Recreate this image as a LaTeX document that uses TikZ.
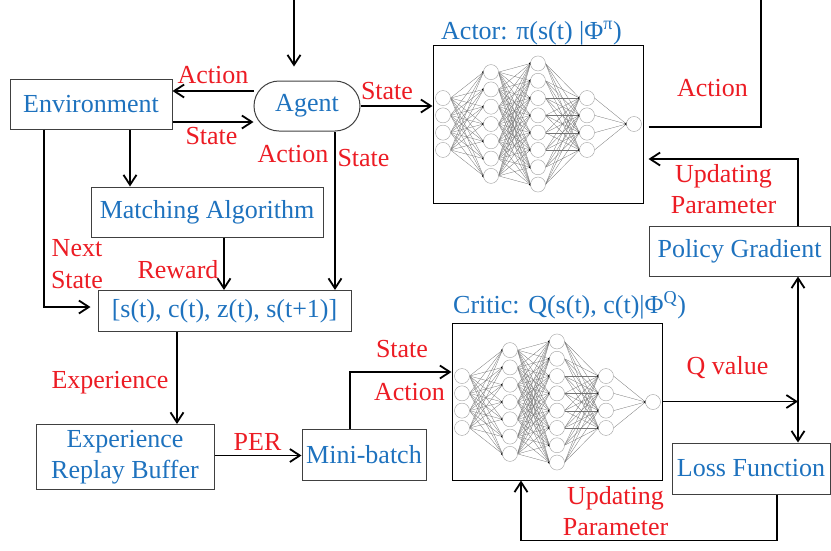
\documentclass[tikz,border=0pt]{standalone}
\usepackage{fontspec}
\setmainfont{Liberation Serif}
\usepackage{tikz}
\usetikzlibrary{arrows.meta}
\definecolor{blueT}{RGB}{30,114,190}
\definecolor{redT}{RGB}{236,28,36}
\tikzset{
  box/.style={draw=black!75, line width=1pt, text=blueT, inner sep=0pt, align=center},
  lbl/.style={text=redT, inner sep=0pt},
  flow/.style={line width=1.8pt},
  neuron/.style={draw=gray!70, line width=0.45pt, fill=white},
  synapse/.style={draw=black!55, line width=0.3pt},
}

\begin{document}
\begin{tikzpicture}[x=1pt, y=-1pt, font=\fontsize{26}{31.5}\selectfont,
    >={Straight Barb[length=10pt,width=13pt]}]
    \useasboundingbox (0,0) rectangle (831,550);

    % Blocks
    \node[box, minimum width=162pt, minimum height=50pt] (env) at (91,104) {Environment};
    \node[box, rounded corners=25pt, minimum width=106pt, minimum height=50pt] (agent) at (307,106) {Agent};
    \node[box, minimum width=232pt, minimum height=50pt] (match) at (207,212) {Matching Algorithm};
    \node[box, minimum width=253pt, minimum height=41pt] (tuple) at (224.5,311) {[s(t), c(t), z(t), s(t+1)]};
    \node[box, minimum width=178pt, minimum height=65pt] (erb) at (125,457) {Experience\\Replay Buffer};
    \node[box, minimum width=124pt, minimum height=51pt] (mini) at (364,454.5) {Mini-batch};
    \node[box, minimum width=181pt, minimum height=50pt] (pg) at (739.5,251) {Policy Gradient};
    \node[box, minimum width=158pt, minimum height=51pt] (loss) at (751,468.5) {Loss Function};

    % Actor and critic frames
    \node[draw, line width=1pt, minimum width=210pt, minimum height=158pt] (actor) at (538,124) {};
    \node[draw, line width=1pt, minimum width=210pt, minimum height=157pt] (critic) at (557,401.5) {};
    \node[anchor=base west, text=blueT, inner sep=0pt] (actortitle) at (441,39) {Actor: π(s(t) |Φ\textsuperscript{π})};
    \node[anchor=base west, text=blueT, inner sep=0pt] (critictitle) at (453,313) {Critic: Q(s(t), c(t)|Φ\textsuperscript{Q})};

    % Networks
    \foreach \dx/\dy in {0/0, 19/278} {
      \begin{scope}[shift={(\dx,\dy)}]
        \foreach \xa/\na/\xb/\nb in {443/4/491/7, 491/7/538/8, 538/8/587/4, 587/4/634/1} {
          \foreach \i in {1,...,\na}
            \foreach \j in {1,...,\nb}
              \draw[synapse] (\xa+7.5, {124+(\i-(\na+1)/2)*17.3}) -- (\xb-7.5, {124+(\j-(\nb+1)/2)*17.3});
          \foreach \j in {1,...,\nb}
            \fill (\xb-7.5, {124+(\j-(\nb+1)/2)*17.3}) circle (1.6pt);
        }
        \foreach \xa/\na in {443/4, 491/7, 538/8, 587/4, 634/1}
          \foreach \i in {1,...,\na}
            \draw[neuron] (\xa, {124+(\i-(\na+1)/2)*17.3}) circle (7.5pt);
      \end{scope}
    }

    % Connectors
    \coordinate (topin) at (294,0);
    \coordinate (topout) at (761,0);
    \draw[flow, ->, shorten >=14pt] (topin) -- (topin |- agent.north);
    \draw[flow, ->] ([yshift=15pt]agent.west) -- ([yshift=15pt]agent.west -| env.east);
    \draw[flow, ->] ([yshift=-18pt]env.east) -- ([yshift=-18pt]env.east -| agent.west);
    \draw[flow, ->] ([xshift=39pt]env.south) -- ([xshift=39pt]env.south |- match.north);
    \draw[flow, ->, shorten >=7pt] ([xshift=-47pt]env.south) |- ([yshift=4pt]tuple.west);
    \draw[flow, ->] ([xshift=17pt]match.south) -- ([xshift=17pt]match.south |- tuple.north);
    \draw[flow, ->] ([xshift=28pt]agent.south) -- ([xshift=28pt]agent.south |- tuple.north);
    \draw[flow, ->] (agent.east) -- (agent.east -| actor.west);
    \draw[flow] ([xshift=5pt,yshift=-3pt]actor.east) -| (topout);
    \draw[flow, ->, shorten >=5pt] ([xshift=58.5pt]pg.north) |- ([yshift=-35pt]actor.east);
    \draw[flow, <->] ([xshift=58.5pt]pg.south) -- ([xshift=58.5pt]pg.south |- loss.north);
    \draw[flow, ->] (critic.east) -- ([xshift=58.5pt]pg.south |- critic.east);
    \draw[flow, ->] ([xshift=26pt]loss.south) -- ++(0,46) -| ([xshift=-36pt]critic.south);
    \draw[flow, ->] ([xshift=-47.5pt]tuple.south) -- ([xshift=-47.5pt]tuple.south |- erb.north);
    \draw[flow, ->] ([yshift=1.5pt]erb.east) -- ([yshift=1.5pt]erb.east -| mini.west);
    \draw[flow, ->] ([xshift=-14pt]mini.north) |- ([yshift=29.5pt]critic.west);

    % Labels
    \node[lbl, anchor=base] (actL) at (213,83) {Action};
    \node[lbl, anchor=base] (stL) at (211.5,144) {State};
    \node[lbl, anchor=base] (actB) at (293,162) {Action};
    \node[lbl, anchor=base] (stB) at (363.5,166) {State};
    \node[lbl, anchor=base] (stR) at (387,99) {State};
    \node[lbl, anchor=base] (actTR) at (712.5,96) {Action};
    \node[lbl, align=center] (nxt) at (77,264) {Next\\State};
    \node[lbl, anchor=base] (rew) at (178,278) {Reward};
    \node[lbl, anchor=base] (expl) at (110,388) {Experience};
    \node[lbl, anchor=base] (per) at (257.5,450) {PER};
    \node[lbl, anchor=base] (stC) at (402,357) {State};
    \node[lbl, anchor=base] (actC) at (409.5,400) {Action};
    \node[lbl, anchor=base] (qval) at (727.5,374) {Q value};
    \node[lbl, align=center] (updA) at (723.5,189) {Updating\\Parameter};
    \node[lbl, align=center] (updC) at (615.5,511) {Updating\\Parameter};
\end{tikzpicture}
\end{document}
